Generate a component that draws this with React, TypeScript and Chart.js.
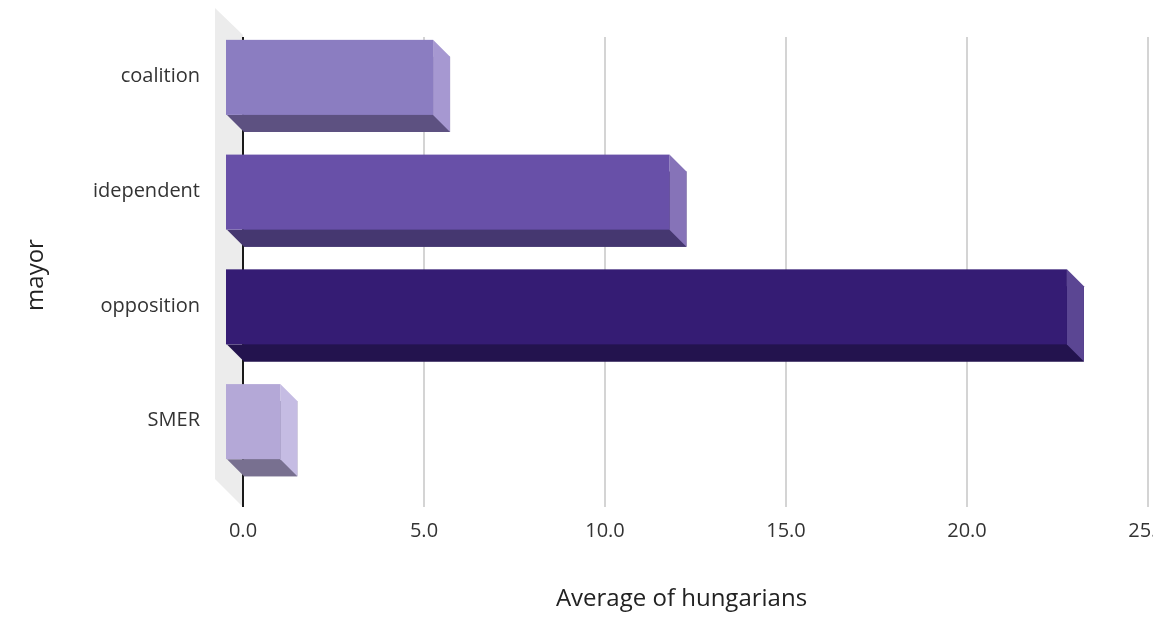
import React, { useEffect, useRef } from "react";
import { Chart, registerables } from "chart.js";

Chart.register(...registerables);

const categories = ["coalition", "idependent", "opposition", "SMER"];
const values = [5.72, 12.25, 23.23, 1.5];
const xTickValues = [0, 5, 10, 15, 20, 25];
const frontColors = ["#8B7DC1", "#6850A8", "#351C74", "#B4A8D7"];
const sideColors = ["#A698D1", "#8673B8", "#5B4693", "#C5BCE3"];
const bottomColors = ["#5D5181", "#453770", "#23134E", "#787090"];
const xTitle = "Average of hungarians";
const yTitle = "mayor";

const DX = 17;
const DY = 17;
const FONT = "'Open Sans', 'Noto Sans', sans-serif";

const bars3d = {
  id: "bars3d",
  afterLayout(chart: any) {
    // centre the axis titles on the whole 3D plot (wall included), like the reference
    const xs = chart.scales.x;
    const ys = chart.scales.y;
    xs.left = chart.chartArea.left - 28;
    ys.bottom = chart.chartArea.bottom + 17;
  },
  beforeDraw(chart: any) {
    const { ctx, chartArea } = chart;
    const { left, top, bottom } = chartArea;
    ctx.save();
    ctx.fillStyle = "#ececec";
    ctx.beginPath();
    ctx.moveTo(left - 28, top - 29);
    ctx.lineTo(left, top - 2);
    ctx.lineTo(left, bottom + 11);
    ctx.lineTo(left - 28, bottom - 17);
    ctx.closePath();
    ctx.fill();
    ctx.restore();
  },
  afterDatasetsDraw(chart: any) {
    const { ctx } = chart;
    const meta = chart.getDatasetMeta(0);
    ctx.save();
    meta.data.forEach((el: any, i: number) => {
      const { x, y, base, height } = el.getProps(["x", "y", "base", "height"], true);
      const t = y - height / 2;
      const b = y + height / 2;
      ctx.fillStyle = bottomColors[i];
      ctx.beginPath();
      ctx.moveTo(base - DX, b - DY);
      ctx.lineTo(x - DX, b - DY);
      ctx.lineTo(x, b);
      ctx.lineTo(base, b);
      ctx.closePath();
      ctx.fill();
      ctx.fillStyle = sideColors[i];
      ctx.beginPath();
      ctx.moveTo(x - DX, t - DY);
      ctx.lineTo(x, t);
      ctx.lineTo(x, b);
      ctx.lineTo(x - DX, b - DY);
      ctx.closePath();
      ctx.fill();
      ctx.fillStyle = frontColors[i];
      ctx.fillRect(base - DX - 1, t - DY, x - base + 1, b - t);
    });
    ctx.restore();
  },
};

export default function App() {
  const ref = useRef<HTMLCanvasElement | null>(null);
  useEffect(() => {
    document.body.style.margin = "0";
    const canvas = ref.current;
    if (!canvas) return;
    const chart = new Chart(canvas, {
      type: "bar",
      data: {
        labels: categories,
        datasets: [
          {
            data: values,
            backgroundColor: bottomColors,
            borderWidth: 0,
            categoryPercentage: 1,
            barPercentage: 0.654,
          },
        ],
      },
      options: {
        indexAxis: "y",
        animation: false,
        responsive: false,
        maintainAspectRatio: false,
        layout: { padding: { top: 37, right: 5, left: 0, bottom: 0 } },
        plugins: { legend: { display: false }, tooltip: { enabled: false } },
        scales: {
          x: {
            type: "linear",
            min: 0,
            max: 25,
            afterBuildTicks: (scale: any) => {
              scale.ticks = xTickValues.map((v) => ({ value: v }));
            },
            afterFit: (scale: any) => {
              scale.height = 122;
              scale.paddingLeft = 0;
              scale.paddingRight = 0;
            },
            grid: {
              display: true,
              drawOnChartArea: true,
              drawTicks: true,
              tickLength: 11,
              lineWidth: 2,
              color: (c: any) => (c.tick && c.tick.value === 0 ? "#1a1a1a" : "#d4d4d4"),
            },
            border: { display: false },
            ticks: {
              padding: 12,
              color: "#333333",
              font: { family: FONT, size: 20 },
              maxRotation: 0,
              callback: (v: any) => Number(v).toFixed(1),
            },
            title: {
              display: true,
              text: xTitle,
              color: "#222222",
              font: { family: FONT, size: 24 },
              padding: { top: 0, bottom: 4 },
            },
          },
          y: {
            type: "category",
            afterFit: (scale: any) => {
              scale.width = 243;
              scale.paddingTop = 0;
              scale.paddingBottom = 0;
            },
            grid: { display: false, drawTicks: false },
            border: { display: false },
            ticks: {
              padding: 43,
              labelOffset: -18,
              color: "#333333",
              font: { family: FONT, size: 20 },
            },
            title: {
              display: true,
              text: yTitle,
              color: "#222222",
              font: { family: FONT, size: 24 },
              padding: { top: 22, bottom: 0 },
            },
          },
        },
      } as any,
      plugins: [bars3d],
    });
    return () => chart.destroy();
  }, []);
  return (
    <div style={{ position: "absolute", left: 0, top: 0, width: 1153, height: 618 }}>
      <canvas ref={ref} width={1153} height={618} />
    </div>
  );
}
